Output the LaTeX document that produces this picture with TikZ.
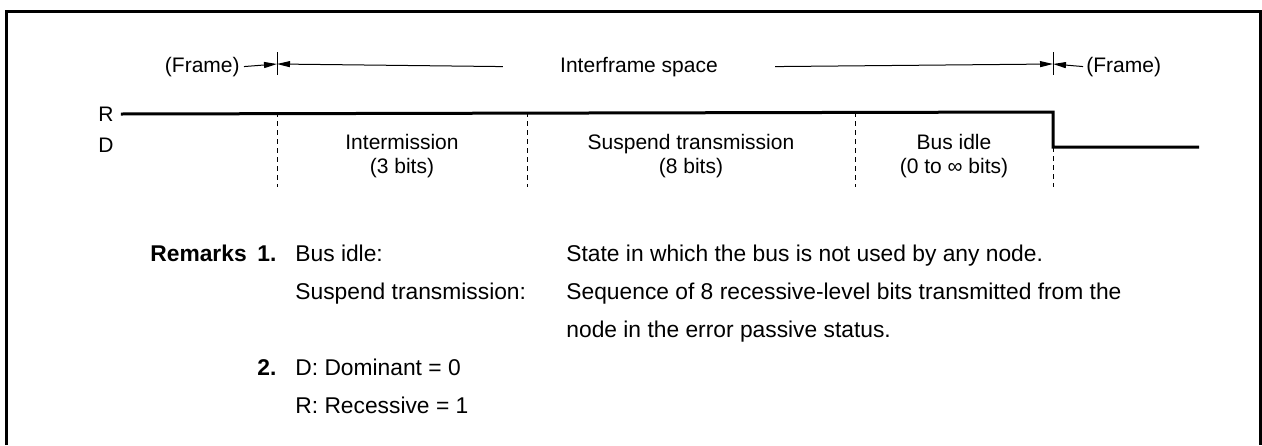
\documentclass[tikz,border=0pt]{standalone}
\usepackage{fontspec}
\setmainfont{Liberation Sans}
\usetikzlibrary{arrows.meta,positioning}

\begin{document}
\begin{tikzpicture}[x=0.5pt,y=-0.5pt,
  txt/.style={font=\fontsize{10.5}{12}\selectfont,inner sep=0pt},
  field/.style={txt,align=center},
  note/.style={font=\fontsize{11.4}{14}\selectfont,inner sep=0pt,anchor=base west},
  dim/.style={line width=0.5pt,-{Triangle[length=6.5pt,width=3pt]}},
  signal/.style={line width=1.5pt},
  bound/.style={line width=0.5pt,dash pattern=on 2.5pt off 2pt}]
  \useasboundingbox (0,0) rectangle (1262,445);
  \draw[line width=1.5pt] (6.5,445) -- (6.5,11.5) -- (1260.5,11.5) -- (1260.5,445);
  % frame boundaries
  \coordinate (t1) at (277,64);
  \coordinate (t4) at (1053,64);
  \draw[line width=0.5pt] (277,52) -- (277,75);
  \draw[line width=0.5pt] (1053,52) -- (1053,75);
  % interframe space dimension
  \node[txt, anchor=base east] (fl) at (240,72) {(Frame)};
  \node[txt, anchor=base, inner xsep=28.5pt] (ifs) at (639,72) {Interframe space};
  \node[txt, anchor=base west] (fr) at (1086,72) {(Frame)};
  \draw[dim] ([xshift=2pt]fl.east) -- (t1);
  \draw[dim] (ifs.west) -- (t1);
  \draw[dim] (ifs.east) -- (t4);
  \draw[dim] ([xshift=-1.5pt]fr.west) -- (t4);
  % bus level
  \node[txt] (r) at (106,114) {R};
  \node[txt] (d) at (106,145) {D};
  \draw[signal] ([xshift=3.5pt]r.east) -- (1053,112) -- (1053,147) -- (1199,147);
  \foreach \x in {277,527,855} \draw[bound] (\x,112) -- (\x,187);
  \draw[bound] (1053,147) -- (1053,187);
  \node[field] (im) at (402,156) {Intermission\\(3 bits)};
  \node[field] (st) at (691,156) {Suspend transmission\\(8 bits)};
  \node[field] (bi) at (954,156) {Bus idle\\(0 to ∞ bits)};
  % remarks
  \node[note] (rem) at (150,261) {\textbf{Remarks}};
  \node[note] (n1) at (257,261) {\textbf{1.}};
  \node[note] (k1) at (295,261) {Bus idle:};
  \node[note] (v1) at (566,261) {State in which the bus is not used by any node.};
  \node[note] (k2) at (295,299) {Suspend transmission:};
  \node[note] (v2) at (566,299) {Sequence of 8 recessive-level bits transmitted from the};
  \node[note] (v3) at (566,337) {node in the error passive status.};
  \node[note] (n2) at (257,375) {\textbf{2.}};
  \node[note] (k3) at (295,375) {D: Dominant = 0};
  \node[note] (k4) at (295,413) {R: Recessive = 1};
\end{tikzpicture}
\end{document}
